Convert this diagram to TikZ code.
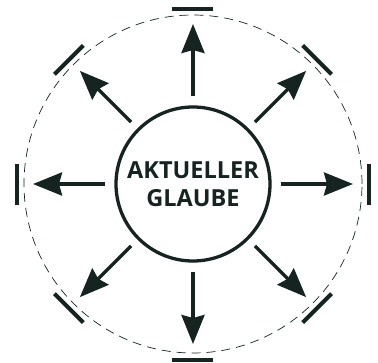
\documentclass[tikz,border=0pt]{standalone}
\usepackage{fontspec}
\setmainfont{Open Sans}
\usetikzlibrary{arrows.meta}
\definecolor{dunkel}{HTML}{152321}
\begin{document}
\begin{tikzpicture}[x=1pt, y=1pt, every node/.style={font=\bfseries\fontsize{23.5}{28}\selectfont, text=dunkel}]
    \useasboundingbox (-193,-178) rectangle (185,184);

    % Gestrichelter Kreis
    \draw[dunkel, line width=0.7pt, dash pattern=on 9pt off 6pt] (0,0) circle (169);

    % Aktueller Glaube
    \node[draw=dunkel, line width=3.3pt, circle, minimum size=154pt, inner sep=0pt, align=center] (glaube) at (0,0) {AKTUELLER\\GLAUBE};

    % Pfeile und Balken
    \foreach \a in {0,45,...,315} {
        \coordinate (spitze\a) at (\a:160);
        \draw[dunkel, line width=3.5pt, shorten <=9pt, -{Stealth[length=29pt, width=23pt, inset=3pt]}] (glaube.\a) -- (spitze\a);
        \draw[dunkel, line width=4pt] (\a:175.5) ++(\a+90:20.5) -- ++(\a-90:41);
    }
\end{tikzpicture}
\end{document}
